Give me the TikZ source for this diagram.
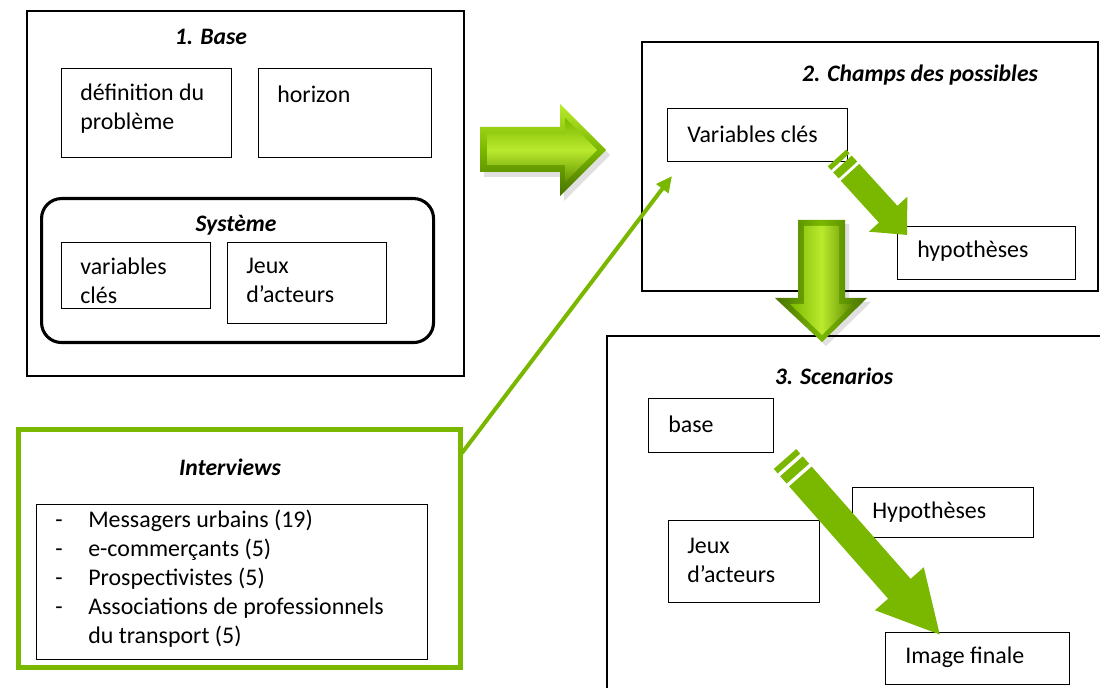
\documentclass[tikz,border=0pt]{standalone}
\usepackage{fontspec}
\setmainfont{Carlito}
\usetikzlibrary{calc,arrows.meta}
\definecolor{gMain}{RGB}{122,184,0}
\definecolor{gDark}{RGB}{72,114,0}
\definecolor{gLight}{RGB}{186,234,46}
\def\px{0.025cm}
\def\dashw{0.825cm}
\tikzset{
  box/.style={draw, anchor=north west, inner sep=0pt, line width=0.9pt},
  frame/.style={box, line width=1.3pt},
  txt/.style={anchor=west, inner sep=0pt, align=left, font=\fontsize{17}{20.6}\selectfont},
  ttl/.style={inner sep=0pt, font=\fontsize{16.8}{20.6}\selectfont\bfseries\itshape},
  thinarr/.style={gMain, line width=0.1cm, -{Triangle[length=0.4cm, width=0.36cm]}}
}
% flat arrow with two stripes: start, angle, length, half shaft, half head, head length
\newcommand{\flatarrow}[6]{%
  \pgfmathsetmacro\arA{0.4*#4}\pgfmathsetmacro\arB{0.65*#4}%
  \pgfmathsetmacro\arC{1.3*#4}\pgfmathsetmacro\arD{1.55*#4}%
  \pgfmathsetmacro\arE{#3-#6}%
  \begin{scope}[shift={(#1)}, rotate=#2]
    \fill[gMain] (0,-#4) rectangle (\arA,#4);
    \fill[gMain] (\arB,-#4) rectangle (\arC,#4);
    \fill[gMain] (\arD,-#4) -- (\arE,-#4) -- (\arE,-#5) -- (#3,0) -- (\arE,#5) -- (\arE,#4) -- (\arD,#4) -- cycle;
  \end{scope}}

\begin{document}
\begin{tikzpicture}[x=\px, y=-\px]
  %%%%% START %%%%%
  \useasboundingbox (0,0) rectangle (1100,688);
  \fill[white] (0,0) rectangle (1100,688);
  \clip (0,0) rectangle (1100,688);

  % 1. Base
  \node[frame, minimum width=437*\px, minimum height=365*\px] (base) at (26,10) {};
  \node[ttl] (base-t) at (211,37) {1. Base};
  \node[box, minimum width=170*\px, minimum height=89*\px] (def) at (61,68) {};
  \node[txt] (def-t) at (80,108.5) {définition du\\problème};
  \node[box, minimum width=173*\px, minimum height=89*\px] (hor) at (258,68) {};
  \node[txt] (hor-t) at (277,94) {horizon};
  \node[box, rounded corners=0.5cm, line width=2.2pt, minimum width=392*\px, minimum height=144*\px] (sys) at (40,197) {};
  \node[ttl] (sys-t) at (236,225) {Système};
  \node[box, minimum width=149*\px, minimum height=66*\px] (var) at (61,242) {};
  \node[txt] (var-t) at (80,280.5) {variables\\clés};
  \node[box, minimum width=159*\px, minimum height=81*\px] (jeux) at (227,242) {};
  \node[txt] (jeux-t) at (246,280.5) {Jeux\\d’acteurs};

  % 2. Champs des possibles
  \node[frame, minimum width=456*\px, minimum height=249*\px] (champs) at (641,41) {};
  \node[ttl] (champs-t) at (920,75) {2. Champs des possibles};
  \node[box, minimum width=180*\px, minimum height=53*\px] (vcl) at (667,108) {};
  \node[txt] (vcl-t) at (687,134) {Variables clés};
  \node[box, minimum width=178*\px, minimum height=53*\px] (hyp) at (897,226) {};
  \node[txt] (hyp-t) at (917,251) {hypothèses};

  % 3. Scenarios
  \node[frame, minimum width=510*\px, minimum height=360*\px] (scen) at (606,335) {};
  \node[ttl] (scen-t) at (834,376) {3. Scenarios};
  \node[box, minimum width=125*\px, minimum height=54*\px] (bas) at (648,398) {};
  \node[txt] (bas-t) at (668,424) {base};
  \node[box, minimum width=181*\px, minimum height=50*\px] (hypS) at (852,487) {};
  \node[txt] (hypS-t) at (872,512) {Hypothèses};
  \node[box, minimum width=151*\px, minimum height=82*\px] (jeuxS) at (668,520) {};
  \node[txt] (jeuxS-t) at (687,560.5) {Jeux\\d’acteurs};
  \node[box, minimum width=184*\px, minimum height=52*\px] (img) at (885,632) {};
  \node[txt] (img-t) at (905,657) {Image finale};

  % Interviews
  \node[box, draw=gMain, line width=3.5pt, minimum width=442*\px, minimum height=238*\px] (intv) at (16,427) {};
  \node[ttl] (intv-t) at (230,467) {Interviews};
  \node[box, minimum width=391*\px, minimum height=155*\px] (list) at (36,504) {};
  \node[txt] (list-t) at (55,578.5) {\makebox[\dashw][l]{-}Messagers urbains (19)\\
    \makebox[\dashw][l]{-}e-commerçants (5)\\
    \makebox[\dashw][l]{-}Prospectivistes (5)\\
    \makebox[\dashw][l]{-}Associations de professionnels\\
    \makebox[\dashw][l]{}du transport (5)};

  % 3D arrows
  \fill[black, opacity=0.12] (484,132) -- (564,132) -- (564,109) -- (610,155) -- (564,201) -- (564,177) -- (484,177) -- cycle;
  \shade[top color=gLight, bottom color=gDark, middle color=gMain] (480,127) -- (560,127) -- (560,104) -- (606,150) -- (560,196) -- (560,172) -- (480,172) -- cycle;
  \shade[top color=gMain, bottom color=gMain!80!black, middle color=gLight] (487,134) -- (565,134) -- (565,118) -- (597,150) -- (565,182) -- (565,165) -- (487,165) -- cycle;

  \fill[black, opacity=0.12] (802,224) -- (849,224) -- (849,302) -- (871,302) -- (826,346) -- (779,302) -- (802,302) -- cycle;
  \shade[left color=gDark, right color=gDark, middle color=gMain] (798,220) -- (845,220) -- (845,298) -- (867,298) -- (822,342) -- (775,298) -- (798,298) -- cycle;
  \shade[left color=gMain, right color=gMain!75!black, middle color=gLight] (804,226) -- (839,226) -- (839,304) -- (853,304) -- (822,335) -- (790,304) -- (804,304) -- cycle;

  % flat arrows
  \flatarrow{837,158}{-47.7}{104}{12.5}{26}{28}
  \flatarrow{785,459}{-48.6}{234}{15}{32.5}{61}

  % interviews -> champs
  \coordinate (intA) at (462,453);
  \coordinate (intB) at (672,176);
  \draw[thinarr] (intA) -- (intB);
  %%%%% END %%%%%
\end{tikzpicture}
\end{document}
